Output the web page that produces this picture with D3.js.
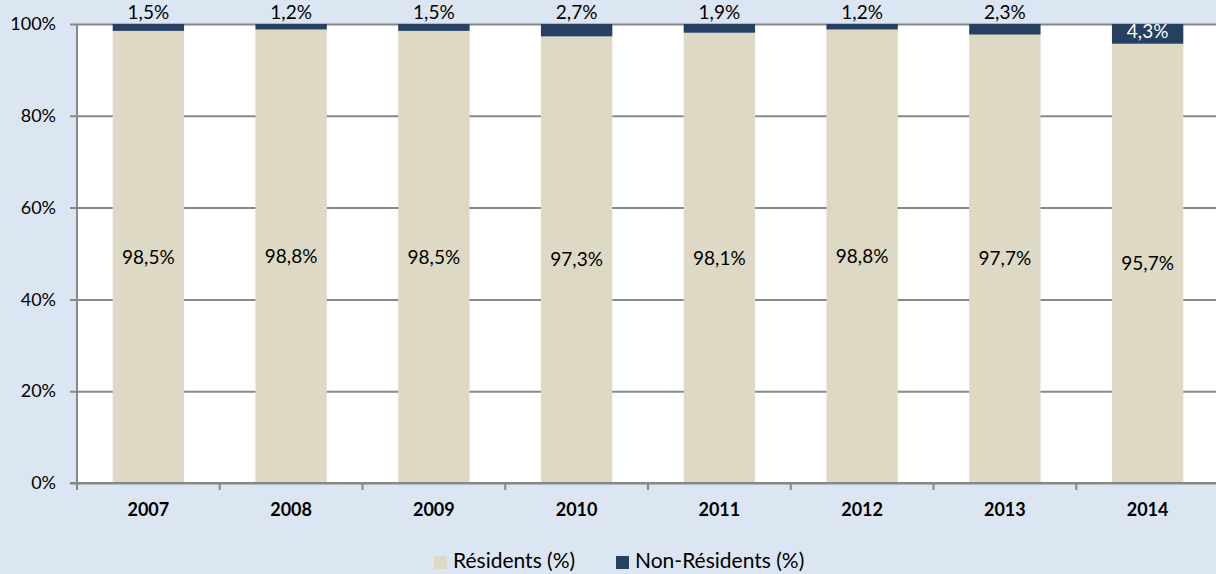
<!DOCTYPE html>
<html>
<head>
<meta charset="utf-8">
<script src="https://cdn.jsdelivr.net/npm/d3@7"></script>
<style>
  html, body { margin: 0; padding: 0; background: #dce6f2; }
  svg { display: block; font-family: Lato, "Open Sans", sans-serif; }
</style>
</head>
<body>
<div id="chart"></div>
<script>
const years = ['2007', '2008', '2009', '2010', '2011', '2012', '2013', '2014'];
const residents = [98.5, 98.8, 98.5, 97.3, 98.1, 98.8, 97.7, 95.7];
const nonResidents = [1.5, 1.2, 1.5, 2.7, 1.9, 1.2, 2.3, 4.3];
const yTicks = [0, 20, 40, 60, 80, 100];
const seriesNames = ['Résidents (%)', 'Non-Résidents (%)'];
const colors = ['#ddd9c4', '#254061'];

const W = 1216, H = 574;
const margin = { top: 24, right: -3, bottom: 91, left: 77 };
const width = W - margin.left - margin.right;
const height = H - margin.top - margin.bottom;
const fmt = v => v.toFixed(1).replace('.', ',') + '%';

const svg = d3.select('#chart').append('svg')
  .attr('width', W).attr('height', H);
svg.append('rect').attr('width', W).attr('height', H).attr('fill', '#dce6f2');

const g = svg.append('g').attr('transform', `translate(${margin.left},${margin.top})`);

const x = d3.scaleBand().domain(years).range([0, width]).paddingInner(0.5).paddingOuter(0.25);
const xb = d3.scaleBand().domain(years).range([0, width]);
const y = d3.scaleLinear().domain([0, 100]).range([height, 0]);

g.append('rect').attr('width', width).attr('height', height).attr('fill', '#fff');

// gridlines + y axis
g.append('g')
  .call(d3.axisLeft(y).tickValues(yTicks).tickSize(-width - 7).tickFormat(d => d + '%'))
  .call(a => a.select('.domain').remove())
  .call(a => a.selectAll('line').attr('stroke', '#888').attr('stroke-width', 2).attr('transform', 'translate(-7,0)'))
  .call(a => a.selectAll('text').attr('x', -21).attr('fill', '#000').style('font-size', '18px').style('font-family', 'Lato, sans-serif'));

const rows = years.map((yr, i) => ({ yr, r: residents[i], n: nonResidents[i] }));

g.selectAll('.res').data(rows).enter().append('rect')
  .attr('x', d => x(d.yr)).attr('width', x.bandwidth())
  .attr('y', d => y(d.r)).attr('height', d => height - y(d.r))
  .attr('fill', colors[0]);

g.selectAll('.non').data(rows).enter().append('rect')
  .attr('x', d => x(d.yr)).attr('width', x.bandwidth())
  .attr('y', d => y(d.r + d.n)).attr('height', d => y(d.r) - y(d.r + d.n))
  .attr('fill', colors[1]);

// y axis line
g.append('line').attr('x1', 0).attr('x2', 0).attr('y1', 0).attr('y2', height)
  .attr('stroke', '#888').attr('stroke-width', 2);

// x axis
const xAxis = g.append('g').attr('transform', `translate(0,${height})`);
xAxis.append('line').attr('x1', -7).attr('x2', width).attr('stroke', '#888').attr('stroke-width', 2);
xAxis.selectAll('.tk').data(years.concat(['end'])).enter().append('line')
  .attr('x1', (d, i) => i * xb.bandwidth()).attr('x2', (d, i) => i * xb.bandwidth())
  .attr('y1', 0).attr('y2', 7).attr('stroke', '#888').attr('stroke-width', 2);
xAxis.selectAll('.lbl').data(years).enter().append('text')
  .attr('x', d => x(d) + x.bandwidth() / 2).attr('y', 33)
  .attr('text-anchor', 'middle').style('font-size', '18px').style('font-weight', 'bold')
  .text(d => d);

// labels
g.selectAll('.rl').data(rows).enter().append('text')
  .attr('x', d => x(d.yr) + x.bandwidth() / 2)
  .attr('y', d => (y(0) + y(d.r)) / 2).attr('dy', '0.35em')
  .attr('text-anchor', 'middle').style('font-size', '19px').attr('fill', '#000')
  .text(d => fmt(d.r));

g.selectAll('.nl').data(rows).enter().append('text')
  .attr('x', d => x(d.yr) + x.bandwidth() / 2)
  .attr('y', d => d.n > 4 ? (y(d.r) + y(d.r + d.n)) / 2 - 3 : y(100) - 12)
  .attr('dy', '0.35em')
  .attr('text-anchor', 'middle').style('font-size', '19px')
  .attr('fill', d => d.n > 4 ? '#fff' : '#000')
  .text(d => fmt(d.n));

// legend
const legend = svg.append('g').attr('transform', 'translate(434,556)');
const lx = [0, 182];
seriesNames.forEach((s, i) => {
  legend.append('rect').attr('x', lx[i]).attr('y', 0).attr('width', 13).attr('height', 13).attr('fill', colors[i]);
  legend.append('text').attr('x', lx[i] + 19).attr('y', 5).attr('dy', '0.35em')
    .style('font-size', '21px').text(s);
});
</script>
</body>
</html>
